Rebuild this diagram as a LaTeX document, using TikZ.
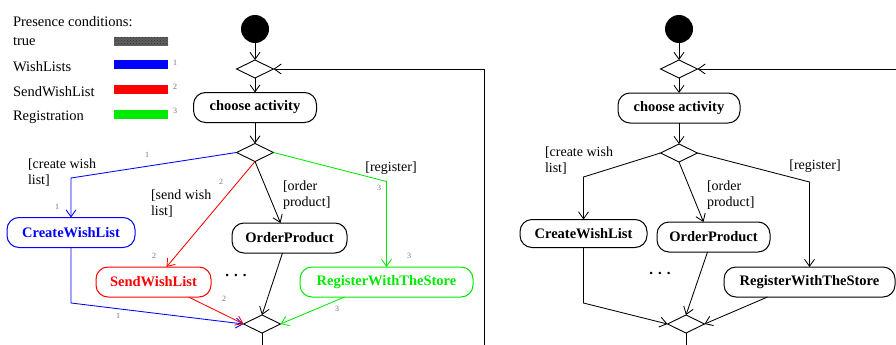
\documentclass[tikz,border=0pt]{standalone}
\usepackage{fontspec}
\setmainfont{Liberation Serif}
\usetikzlibrary{shapes.geometric,arrows.meta,patterns}
\definecolor{pcblue}{RGB}{0,0,255}
\definecolor{pcred}{RGB}{255,0,0}
\definecolor{pcgreen}{RGB}{0,235,0}
\definecolor{pcgray}{RGB}{95,95,95}
\begin{document}
\begin{tikzpicture}[x=1pt,y=-1pt,
  every node/.style={inner sep=0pt, outer sep=0pt},
  act/.style={draw, rounded corners=12pt, minimum height=30pt, line width=1pt,
    font=\fontsize{14.5}{16}\selectfont\bfseries},
  dec/.style={draw, diamond, minimum width=37pt, minimum height=18pt, line width=0.9pt},
  init/.style={circle, fill=black, minimum size=28pt},
  wire/.style={line width=0.85pt},
  flow/.style={wire, -{Straight Barb[length=7pt,width=10pt]}},
  guard/.style={font=\fontsize{14}{15.5}\selectfont, align=left, anchor=north west},
  num/.style={font=\fontsize{8}{8}\selectfont, text=black!55},
  legtext/.style={font=\fontsize{14.5}{16}\selectfont, anchor=base west},
  legbar/.style={minimum width=54pt, minimum height=9pt, anchor=north west},
  dotsty/.style={font=\fontsize{15}{16}\selectfont\bfseries, anchor=base}
]
\useasboundingbox (0,0) rectangle (896,345);

% ---------- legend ----------
\node[legtext] (lgtitle) at (13,27) {Presence conditions:};
\node[legtext] (lgtrue) at (13,46) {true};
\node[legtext] (lgwish) at (13,71) {WishLists};
\node[legtext] (lgsend) at (13,96) {SendWishList};
\node[legtext] (lgreg) at (13,120) {Registration};
\node[legbar, fill=pcgray, postaction={pattern=crosshatch dots, pattern color=black!80}] (bartrue) at (114,37) {};
\node[legbar, fill=pcblue] (barwish) at (114,60) {};
\node[legbar, fill=pcred] (barsend) at (114,85) {};
\node[legbar, fill=pcgreen] (barreg) at (114,110) {};
\node[num] (lgn1) at (175,63) {1};
\node[num] (lgn2) at (175,87) {2};
\node[num] (lgn3) at (175,111) {3};

% ---------- annotated activity diagram ----------
\node[init] (s1) at (255,29) {};
\node[dec] (m1) at (255,69) {};
\node[act, minimum width=123pt] (ca1) at (255,107.5) {choose activity};
\node[dec] (d1) at (255,152.5) {};
\node[act, minimum width=128pt, draw=pcblue, text=pcblue] (cw1) at (71,232.5) {CreateWishList};
\node[act, minimum width=115pt, draw=pcred, text=pcred] (sw1) at (153.5,282) {SendWishList};
\node[act, minimum width=115pt] (op1) at (289.5,238) {OrderProduct};
\node[act, minimum width=173pt, draw=pcgreen, text=pcgreen] (rs1) at (386.5,282) {RegisterWithTheStore};
\node[dec] (j1) at (262,324) {};
\node[dotsty] (dots1) at (236,276) {.\hspace{5pt}.\hspace{5pt}.};

\node[guard] (gcw1) at (28,159) {[create wish\\list]};
\node[guard] (gsw1) at (151,190) {[send wish\\list]};
\node[guard] (gop1) at (283,181) {[order\\product]};
\node[guard, anchor=center] (grs1) at (391,168) {[register]};

\coordinate (b1) at (71,178);
\coordinate (g1) at (386.5,181.5);
\coordinate (b2) at (71,303);
\coordinate (out1) at (262,345);
\coordinate (lp1a) at (484,345);
\coordinate (lp1b) at (484,69);

\draw[flow] (s1) -- (m1.north);
\draw[flow] (m1.south) -- (ca1.north);
\draw[flow] (ca1.south) -- (d1.north);
\draw[flow, pcblue] (d1.west) -- (b1) -- (cw1.north);
\draw[flow, pcred] (d1.south) -- ([xshift=13pt]sw1.north);
\draw[flow] (d1.south) -- ([xshift=-9pt]op1.north);
\draw[flow, pcgreen] (d1.east) -- (g1) -- (rs1.north);
\draw[flow, pcblue] (cw1.south) -- (b2) -- (j1.west);
\draw[flow, pcred] ([xshift=35pt]sw1.south) -- (j1.west);
\draw[flow] ([xshift=-7pt]op1.south) -- (j1.north);
\draw[flow, pcgreen] ([xshift=-42pt]rs1.south) -- (j1.east);
\draw[wire] (j1.south) -- (out1);
\draw[flow] (lp1a) -- (lp1b) -- (m1.east);

\node[num] (n1a) at (147,155) {1};
\node[num] (n1b) at (57,207) {1};
\node[num] (n1c) at (118,316) {1};
\node[num] (n2a) at (221,182) {2};
\node[num] (n2b) at (154,256) {2};
\node[num] (n2c) at (224,299) {2};
\node[num] (n3a) at (379,188) {3};
\node[num] (n3b) at (409,256) {3};
\node[num] (n3c) at (337,309) {3};

% ---------- plain activity diagram ----------
\node[init] (s2) at (679,29) {};
\node[dec] (m2) at (679,69) {};
\node[act, minimum width=122pt] (ca2) at (679,108) {choose activity};
\node[dec] (d2) at (679,153) {};
\node[act, minimum width=127pt, minimum height=28pt] (cw2) at (583.5,233.5) {CreateWishList};
\node[act, minimum width=113pt] (op2) at (713.5,237) {OrderProduct};
\node[act, minimum width=171pt] (rs2) at (809.5,282) {RegisterWithTheStore};
\node[dec] (j2) at (686,324) {};
\node[dotsty] (dots2) at (660,274) {.\hspace{5pt}.\hspace{5pt}.};

\node[guard] (gcw2) at (545,147) {[create wish\\list]};
\node[guard] (gop2) at (707,181) {[order\\product]};
\node[guard, anchor=center] (grs2) at (815,166) {[register]};

\coordinate (c1) at (583.5,177);
\coordinate (c2) at (809.5,182);
\coordinate (c3) at (583.5,303);
\coordinate (out2) at (686,345);
\coordinate (lp2) at (896,69);

\draw[flow] (s2) -- (m2.north);
\draw[flow] (m2.south) -- (ca2.north);
\draw[flow] (ca2.south) -- (d2.north);
\draw[flow] (d2.west) -- (c1) -- (cw2.north);
\draw[flow] (d2.south) -- ([xshift=-10pt]op2.north);
\draw[flow] (d2.east) -- (c2) -- (rs2.north);
\draw[flow] (cw2.south) -- (c3) -- (j2.west);
\draw[flow] ([xshift=-6pt]op2.south) -- (j2.north);
\draw[flow] ([xshift=-42pt]rs2.south) -- (j2.east);
\draw[wire] (j2.south) -- (out2);
\draw[flow] (lp2) -- (m2.east);
\end{tikzpicture}
\end{document}
